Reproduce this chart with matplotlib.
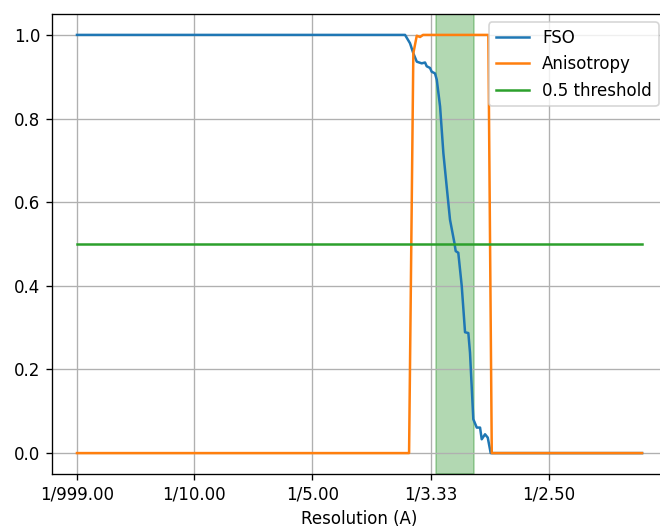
import numpy as np
import matplotlib
matplotlib.use("Agg")
import matplotlib.pyplot as plt

# FSO curve (frequency in 1/A, value)
fso_x = [0.001, 0.2783, 0.2825, 0.2853, 0.2882, 0.2924, 0.2952, 0.2966,
         0.2994, 0.3008, 0.3036, 0.3051, 0.3079, 0.3107, 0.3135, 0.3163,
         0.3200, 0.3211, 0.3233, 0.3262, 0.3290, 0.3318, 0.3332, 0.3360,
         0.3389, 0.3417, 0.3431, 0.3459, 0.3482, 0.3507, 0.4786]
fso_y = [1.0, 1.0, 0.980, 0.956, 0.936, 0.932, 0.934, 0.925,
         0.921, 0.912, 0.908, 0.893, 0.829, 0.717, 0.637, 0.558,
         0.503, 0.483, 0.479, 0.400, 0.289, 0.287, 0.240, 0.081,
         0.061, 0.061, 0.033, 0.045, 0.037, 0.0, 0.0]

# Anisotropy curve
ani_x = [0.001, 0.2817, 0.2853, 0.2882, 0.2910, 0.2935,
         0.3487, 0.3516, 0.4786]
ani_y = [0.0, 0.0, 0.956, 0.998, 0.995, 1.0,
         1.0, 0.0, 0.0]

thr_x = [0.001, 0.4786]
thr_y = [0.5, 0.5]

span_lo, span_hi = 0.3045, 0.3366

tick_pos = [0.001, 0.1, 0.2, 0.3, 0.4]
tick_lab = ["1/999.00", "1/10.00", "1/5.00", "1/3.33", "1/2.50"]

# rendered at 120 dpi, so text and lines come out a bit bigger
fig = plt.figure(figsize=(660/120, 529/120), dpi=120)
ax = fig.add_axes([52/660, 1-474/529, (667-52)/660, (474-14)/529])

ax.plot(fso_x, fso_y, label="FSO")
ax.plot(ani_x, ani_y, label="Anisotropy")
ax.plot(thr_x, thr_y, label="0.5 threshold")
ax.axvspan(span_lo, span_hi, color="green", alpha=0.3)

ax.set_xticks(tick_pos)
ax.set_xticklabels(tick_lab)
ax.set_xlim(-0.0201, 0.4997)
ax.set_xlabel("Resolution (A)")
ax.grid(True)
ax.legend(loc="upper right")

fig.savefig("out.png", dpi=120)
